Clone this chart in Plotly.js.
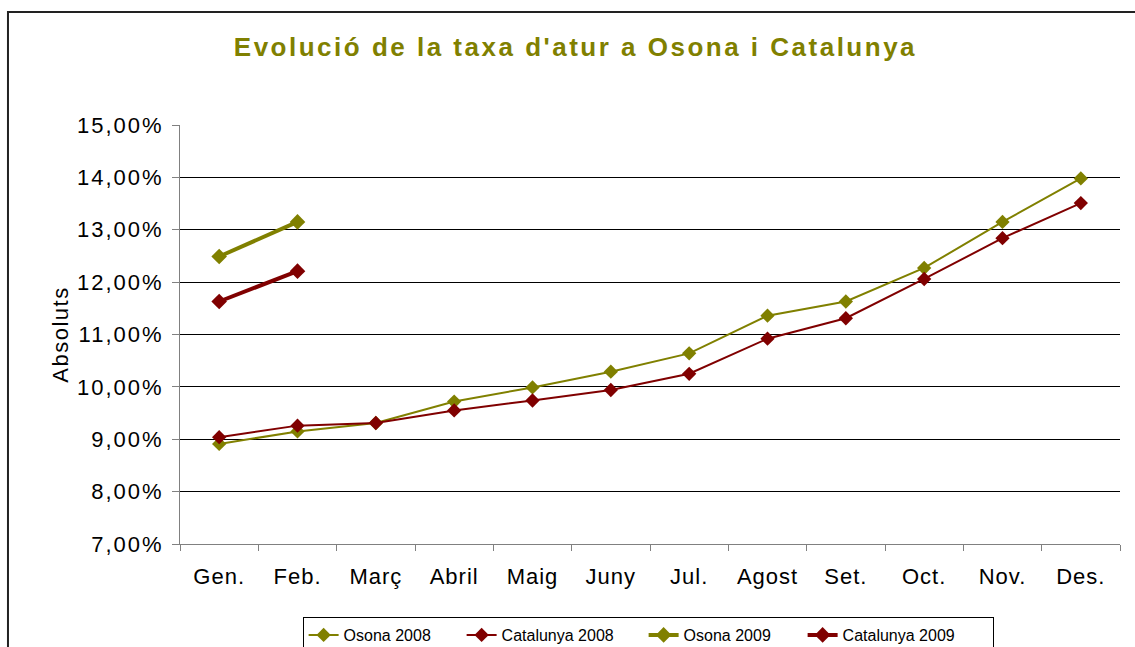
<!DOCTYPE html>
<html>
<head>
<meta charset="utf-8">
<script src="https://cdn.plot.ly/plotly-3.0.1.min.js"></script>
<style>
  html, body { margin: 0; padding: 0; background: #fff; overflow: hidden; }
  #chart { width: 1135px; height: 647px; }
  #chart .xtick text { letter-spacing: 1px; }
  #chart .ytick text { letter-spacing: 2px; }
  #chart .gtitle { letter-spacing: 2.5px; }
  #chart .ytitle { letter-spacing: 1.5px; }
</style>
</head>
<body>
<div id="chart"></div>
<script>
const months = ["Gen.", "Feb.", "Març", "Abril", "Maig", "Juny", "Jul.", "Agost", "Set.", "Oct.", "Nov.", "Des."];
const osona2008 = [8.91, 9.15, 9.31, 9.72, 9.99, 10.29, 10.64, 11.36, 11.63, 12.27, 13.15, 13.98];
const catalunya2008 = [9.04, 9.26, 9.31, 9.55, 9.74, 9.94, 10.25, 10.92, 11.31, 12.06, 12.84, 13.51];
const months2009 = ["Gen.", "Feb."];
const osona2009 = [12.49, 13.15];
const catalunya2009 = [11.63, 12.21];
const yTickValues = [7, 8, 9, 10, 11, 12, 13, 14, 15];
const yTickLabels = ["7,00%", "8,00%", "9,00%", "10,00%", "11,00%", "12,00%", "13,00%", "14,00%", "15,00%"];

const OLIVE = "#808000";
const MAROON = "#800000";

const traces = [
  { x: months, y: osona2008, name: "Osona 2008", type: "scatter", mode: "lines+markers", legendwidth: 113,
    line: { color: OLIVE, width: 2 }, marker: { symbol: "diamond", size: 11, color: OLIVE } },
  { x: months, y: catalunya2008, name: "Catalunya 2008", type: "scatter", mode: "lines+markers", legendwidth: 137,
    line: { color: MAROON, width: 2 }, marker: { symbol: "diamond", size: 11, color: MAROON } },
  { x: months2009, y: osona2009, name: "Osona 2009", type: "scatter", mode: "lines+markers", legendwidth: 114,
    line: { color: OLIVE, width: 4 }, marker: { symbol: "diamond", size: 12, color: OLIVE } },
  { x: months2009, y: catalunya2009, name: "Catalunya 2009", type: "scatter", mode: "lines+markers", legendwidth: 145,
    line: { color: MAROON, width: 4 }, marker: { symbol: "diamond", size: 12, color: MAROON } }
];

const layout = {
  width: 1135, height: 647,
  margin: { l: 180, r: 15, t: 125, b: 103, autoexpand: false },
  paper_bgcolor: "#fff", plot_bgcolor: "#fff",
  hovermode: false,
  showlegend: true,
  font: { family: "Liberation Sans, Arial, sans-serif", color: "#000" },
  title: {
    text: "<b>Evolució de la taxa d'atur a Osona i Catalunya</b>",
    font: { family: "Liberation Sans, Arial, sans-serif", size: 26, color: OLIVE },
    x: 0.507, xanchor: "center", y: 0.927, yanchor: "middle"
  },
  xaxis: {
    type: "category", categoryorder: "array", categoryarray: months,
    range: [-0.5, 11.5], fixedrange: true,
    showgrid: false, showline: true, linecolor: "#808080", linewidth: 1,
    ticks: "outside", tickson: "boundaries", ticklen: 6, tickcolor: "#808080",
    ticklabelstandoff: 13,
    tickfont: { size: 22, color: "#000" }, automargin: false
  },
  yaxis: {
    range: [7, 15], fixedrange: true,
    tickmode: "array", tickvals: yTickValues, ticktext: yTickLabels,
    showgrid: true, gridcolor: "#000", gridwidth: 1,
    showline: true, linecolor: "#808080", linewidth: 1,
    ticks: "outside", ticklen: 7, tickcolor: "#808080",
    ticklabelstandoff: 4,
    tickfont: { size: 22, color: "#000" }, zeroline: false, automargin: false,
    title: { text: "Absoluts", font: { size: 22, color: "#000" }, standoff: 14 }
  },
  legend: {
    orientation: "h", x: 0.498, xanchor: "center", y: -0.1742, yanchor: "top",
    bordercolor: "#000", borderwidth: 1, bgcolor: "#fff",
    font: { size: 16, color: "#000" }, itemclick: false, itemdoubleclick: false
  },
  shapes: [
    { type: "rect", xref: "paper", yref: "paper", x0: -0.183, x1: 1.03, y0: -0.26, y1: 1.2697,
      line: { color: "#222", width: 2 }, fillcolor: "rgba(0,0,0,0)", layer: "below" }
  ]
};

Plotly.newPlot("chart", traces, layout, { displayModeBar: false, staticPlot: true });
</script>
</body>
</html>
